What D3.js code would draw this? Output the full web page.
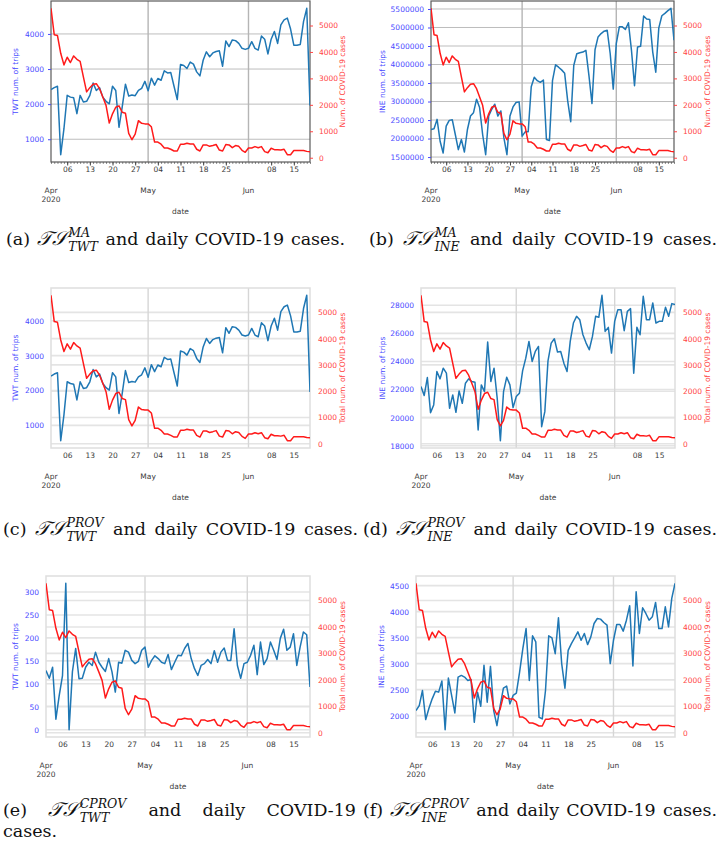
<!DOCTYPE html>
<html><head><meta charset="utf-8">
<script src="https://cdn.jsdelivr.net/npm/d3@7"></script>
<style>
body{margin:0;background:#fff}
svg{display:block}
.tk text{font-family:"DejaVu Sans",sans-serif;font-size:7.5px}
.cap{font-family:"DejaVu Serif",serif;fill:#111}
</style>
</head><body>
<svg id="fig" width="720" height="843"></svg>
<script>
// ---------------- data ----------------
const startDate = "2020-04-01";
const endDate = "2020-06-20";
const covidCases = [5650,4650,4620,3950,3510,3800,3600,3850,3720,3640,
  3060,2490,2650,2780,2800,2610,2300,1980,1310,1660,
  1910,1960,1720,1680,920,680,890,1400,1300,1280,
  1280,1170,590,590,510,370,370,320,255,255,
  510,510,550,520,520,320,255,485,485,430,
  460,500,290,255,500,485,380,460,430,280,
  205,370,370,420,380,420,230,190,360,305,
  305,290,320,115,115,270,270,270,270,240,
  230];
const twtMA = [2414,2471,2509,560,1300,2250,2200,2180,1730,2250,
  2060,2080,2250,2600,2390,2470,2200,2080,2010,2510,
  2390,1340,1920,2570,2230,2260,2240,2390,2450,2650,
  2380,2740,2540,2730,2680,2950,2890,2900,2510,2130,
  3130,3100,3015,3200,3140,2920,2805,3250,3490,3350,
  3460,3500,3520,3080,3800,3640,3830,3810,3730,3590,
  3560,3590,3780,3590,3540,3940,3850,3430,3850,4070,
  3730,4260,4400,4450,4140,3680,3680,3700,4350,4730,
  1960];
const ineMA = [2245000,2264000,2518000,1927000,1609000,2336000,2491000,2509000,2109000,1700000,
  1973000,1636000,2245000,2609000,2700000,3064000,2836000,2109000,1564000,2609000,
  2791000,2927000,2609000,2745000,2018000,1564000,2609000,2855000,2973000,2991000,
  2064000,2182000,2182000,3400000,3655000,3564000,3518000,3582000,1973000,1945000,
  3564000,3991000,3927000,3855000,3764000,3018000,2455000,3973000,4291000,4318000,
  4336000,4382000,3700000,2945000,4400000,4745000,4836000,4900000,4927000,4291000,
  3336000,4564000,5018000,5018000,4945000,5127000,4382000,3427000,4473000,4491000,
  5309000,5227000,5218000,4336000,3791000,4991000,5318000,5382000,5455000,5518000,
  4655000];
const twtProv = [2414,2471,2509,560,1300,2250,2200,2180,1730,2250,
  2060,2080,2250,2600,2390,2470,2200,2080,2010,2510,
  2390,1340,1920,2570,2230,2260,2240,2390,2450,2650,
  2380,2740,2540,2730,2680,2950,2890,2900,2510,2130,
  3130,3100,3015,3200,3140,2920,2805,3250,3490,3350,
  3460,3500,3520,3080,3800,3640,3830,3810,3730,3590,
  3560,3590,3780,3590,3540,3940,3850,3430,3850,4070,
  3730,4260,4400,4450,4140,3680,3680,3700,4350,4730,
  1960];
const ineProv = [22214,21571,22857,20357,20905,23286,22762,23524,23167,20667,
  21619,20381,21905,21024,22452,22762,22571,22524,19119,22333,
  21857,25381,22571,23524,21381,18357,21857,22881,22333,20714,
  21500,21738,23333,24238,25429,24000,24714,25071,19357,20429,
  24048,25310,25619,24667,24714,23881,23286,25429,26738,27214,
  26976,25905,25310,24833,25786,27214,27143,28714,26143,26429,
  24595,26857,27690,27690,26190,27571,27762,23167,26429,25905,
  28643,26976,26976,28167,26738,26857,26857,27857,27214,28119,
  28048];
const twtCProv = [129,112,136,23,74,118,319,0,126,177,
  111,112,136,147,140,169,147,136,127,155,
  126,82,147,145,173,169,151,144,149,173,
  180,136,151,161,155,147,144,164,131,147,
  162,161,177,188,155,133,118,140,144,153,
  144,172,147,169,178,151,151,220,140,112,
  144,147,162,184,120,191,142,155,191,173,
  153,199,219,173,180,209,140,180,213,207,
  93];
const ineCProv = [2097,2193,2483,1923,2142,2322,2470,2451,2664,1729,
  2722,2387,2052,2741,2773,2741,2677,2696,1871,2451,
  2180,2967,2258,2947,2097,1807,2193,2528,2567,2225,
  2387,2432,2838,3289,3675,2677,3534,3418,1968,1936,
  2483,3534,3495,3192,3881,3000,2528,3256,3385,3495,
  3611,3450,3579,3366,3514,3772,3868,3856,3791,3740,
  3000,3450,3753,3753,3624,3836,4113,2954,4384,3579,
  4075,3965,3836,3900,4178,3675,3675,4094,3707,4255,
  4545];
const weekTicks = ["2020-04-06","2020-04-13","2020-04-20","2020-04-27","2020-05-04","2020-05-11","2020-05-18","2020-05-25","2020-06-08","2020-06-15"];
const monthTicks = ["2020-04-01","2020-05-01","2020-06-01"];
const monthLabels = [["Apr","2020"],["May"],["Jun"]];
const rightTicks = [0,1000,2000,3000,4000,5000];
const leftTicksA = [1000,2000,3000,4000];
const leftTicksB = [1500000,2000000,2500000,3000000,3500000,4000000,4500000,5000000,5500000];
const leftTicksC = [1000,2000,3000,4000];
const leftTicksD = [18000,20000,22000,24000,26000,28000];
const leftTicksE = [0,50,100,150,200,250,300];
const leftTicksF = [2000,2500,3000,3500,4000,4500];

// ---------------- drawing ----------------
const parse = d3.utcParse("%Y-%m-%d");
const days = d3.utcDay.range(parse(startDate), d3.utcDay.offset(parse(endDate),1));
const svg = d3.select("#fig");
const BLUE_TXT = "#4a4aff", RED_TXT = "#ff4444", LINE_BLUE = "#1f77b4", LINE_RED = "#ff1a1a";

const panels = [
  {series:twtMA, lt:leftTicksA, ll:"TWT num. of trips", rl:"Num. of COVID-19 cases", dark:true,
   L:51, R:310, T:1, B:162, lx:15, rx:342},
  {series:ineMA, lt:leftTicksB, ll:"INE num. of trips", rl:"Num. of COVID-19 cases", dark:true,
   L:431, R:674, T:1, B:162, lx:382, rx:707},
  {series:twtProv, lt:leftTicksC, ll:"TWT num. of trips", rl:"Total num. of COVID-19 cases", dark:false,
   L:51, R:310, T:288, B:448, lx:15, rx:342},
  {series:ineProv, lt:leftTicksD, ll:"INE num. of trips", rl:"Total num. of COVID-19 cases", dark:false,
   L:421, R:675, T:288, B:448, lx:382, rx:707},
  {series:twtCProv, lt:leftTicksE, ll:"TWT num. of trips", rl:"Total num. of COVID-19 cases", dark:false,
   L:46, R:310, T:576, B:737, lx:15, rx:342},
  {series:ineCProv, lt:leftTicksF, ll:"INE num. of trips", rl:"Total num. of COVID-19 cases", dark:false,
   L:416, R:675, T:576, B:737, lx:381, rx:707}
];

function padded(arr){
  const [a,b] = d3.extent(arr); const m = (b-a)*0.05; return [a-m, b+m];
}

panels.forEach((p,i)=>{
  const g = svg.append("g");
  const x = d3.scaleUtc().domain([days[0], days[days.length-1]]).range([p.L,p.R]);
  const yL = d3.scaleLinear().domain(padded(p.series)).range([p.B,p.T]);
  const yR = d3.scaleLinear().domain(padded(covidCases)).range([p.B,p.T]);
  const gridCol = p.dark ? "#bdbdbd" : "#e4e4e4";
  const gridW = p.dark ? 1 : 1.6;
  const gl = g.append("g");
  gl.selectAll("line.hl").data(p.lt).join("line")
    .attr("x1",p.L).attr("x2",p.R).attr("y1",d=>yL(d)).attr("y2",d=>yL(d))
    .attr("stroke",gridCol).attr("stroke-width",gridW);
  if(!p.dark){
    gl.selectAll("line.hr").data(rightTicks).join("line")
      .attr("x1",p.L).attr("x2",p.R).attr("y1",d=>yR(d)).attr("y2",d=>yR(d))
      .attr("stroke",gridCol).attr("stroke-width",gridW);
  }
  gl.selectAll("line.v").data(monthTicks.slice(1)).join("line")
    .attr("x1",d=>x(parse(d))).attr("x2",d=>x(parse(d))).attr("y1",p.T).attr("y2",p.B)
    .attr("stroke",p.dark?"#b5b5b5":"#d6d6d6").attr("stroke-width",1.4);
  g.append("rect").attr("x",p.L).attr("y",p.T).attr("width",p.R-p.L).attr("height",p.B-p.T)
    .attr("fill","none").attr("stroke",p.dark?"#5a5a5a":"#dedede").attr("stroke-width",p.dark?1.2:1.5);
  const cid = "clip"+i;
  svg.append("clipPath").attr("id",cid).append("rect")
    .attr("x",p.L).attr("y",p.T-1).attr("width",p.R-p.L).attr("height",p.B-p.T+2);
  const lines = g.append("g").attr("clip-path",`url(#${cid})`);
  lines.append("path").datum(p.series)
    .attr("d", d3.line().x((d,j)=>x(days[j])).y(d=>yL(d)))
    .attr("fill","none").attr("stroke",LINE_BLUE).attr("stroke-width",1.5).attr("stroke-linejoin","round");
  lines.append("path").datum(covidCases)
    .attr("d", d3.line().x((d,j)=>x(days[j])).y(d=>yR(d)))
    .attr("fill","none").attr("stroke",LINE_RED).attr("stroke-width",1.5).attr("stroke-linejoin","round");
  const la = g.append("g").attr("class","tk").attr("transform",`translate(${p.L},0)`)
    .call(d3.axisLeft(yL).tickValues(p.lt).tickFormat(d3.format("d")).tickSize(p.dark?3:0).tickPadding(p.dark?4:7));
  la.select(".domain").remove();
  la.selectAll("line").attr("stroke",BLUE_TXT);
  la.selectAll("text").attr("fill",BLUE_TXT);
  const ra = g.append("g").attr("class","tk").attr("transform",`translate(${p.R},0)`)
    .call(d3.axisRight(yR).tickValues(rightTicks).tickFormat(d3.format("d")).tickSize(p.dark?3:0).tickPadding(p.dark?6:8));
  ra.select(".domain").remove();
  ra.selectAll("line").attr("stroke",RED_TXT);
  ra.selectAll("text").attr("fill",RED_TXT);
  if(p.dark){
    const mi = g.append("g").attr("transform",`translate(0,${p.B})`)
      .call(d3.axisBottom(x).tickValues(days).tickFormat("").tickSize(2));
    mi.select(".domain").remove();
    mi.selectAll("line").attr("stroke","#444").attr("stroke-width",0.6);
  }
  const wa = g.append("g").attr("class","tk").attr("transform",`translate(0,${p.B})`)
    .call(d3.axisBottom(x).tickValues(weekTicks.map(parse)).tickFormat(d3.utcFormat("%d"))
      .tickSize(p.dark?3.5:0).tickPadding(p.dark?1.5:4.5));
  wa.select(".domain").remove();
  wa.selectAll("line").attr("stroke","#444");
  wa.selectAll("text").attr("fill","#3a3a3a");
  const ma = g.append("g").attr("class","tk");
  monthTicks.forEach((m,k)=>{
    const t = ma.append("text").attr("x",x(parse(m))).attr("y",p.B+31)
      .attr("text-anchor","middle").attr("fill","#3a3a3a");
    monthLabels[k].forEach((s,q)=>{
      t.append("tspan").attr("x",x(parse(m))).attr("dy",q?9:0).text(s);
    });
  });
  ma.append("text").attr("x",(p.L+p.R)/2).attr("y",p.B+52).attr("text-anchor","middle")
    .attr("fill","#3a3a3a").text("date");
  const at = g.append("g").attr("class","tk");
  at.append("text").attr("transform",`translate(${p.lx},${(p.T+p.B)/2}) rotate(-90)`)
    .attr("text-anchor","middle").attr("dy","0.35em").attr("fill",BLUE_TXT).text(p.ll);
  at.append("text").attr("transform",`translate(${p.rx},${(p.T+p.B)/2}) rotate(-90)`)
    .attr("text-anchor","middle").attr("dy","0.35em").attr("fill",RED_TXT).text(p.rl);
});

// ---------------- captions ----------------
function caption(x0, y, label, sup, sub, words, width){
  const g = svg.append("g").attr("class","cap");
  const fs = 17.5, small = 12.5;
  const items = [];
  const t1 = g.append("text").attr("y",y).attr("font-size",fs).text(label);
  items.push({el:t1, w:t1.node().getComputedTextLength()});
  const ts = g.append("text").attr("y",y).attr("font-size",19.5).attr("font-style","italic").text("𝒯𝒮");
  const sp = g.append("text").attr("y",y-8.5).attr("font-size",small).attr("font-style","italic").text(sup);
  const sb = g.append("text").attr("y",y+6).attr("font-size",small).attr("font-style","italic").text(sub);
  items.push({el:ts, w:ts.node().getComputedTextLength()+1.5, sub:[sp,sb],
    ws:Math.max(sp.node().getComputedTextLength(), sb.node().getComputedTextLength())+1});
  words.forEach(w=>{
    const t = g.append("text").attr("y",y).attr("font-size",fs).text(w);
    items.push({el:t, w:t.node().getComputedTextLength()});
  });
  let natural = 0;
  items.forEach(it=>{ natural += it.w + (it.ws||0); });
  const gap = Math.max(4, (width - natural)/(items.length-1));
  let x = x0;
  items.forEach(it=>{
    it.el.attr("x",x);
    x += it.w;
    if(it.sub){ it.sub.forEach(s=>s.attr("x",x)); x += it.ws; }
    x += gap;
  });
}
caption(6, 245, "(a)", "MA", "TWT", ["and","daily","COVID-19","cases."], 339);
caption(369, 245, "(b)", "MA", "INE", ["and","daily","COVID-19","cases."], 348);
caption(3, 535, "(c)", "PROV", "TWT", ["and","daily","COVID-19","cases."], 355);
caption(363, 535, "(d)", "PROV", "INE", ["and","daily","COVID-19","cases."], 354);
caption(3, 816, "(e)", "CPROV", "TWT", ["and","daily","COVID-19"], 353);
caption(363, 816, "(f)", "CPROV", "INE", ["and","daily","COVID-19","cases."], 354);
svg.append("text").attr("class","cap").attr("x",3).attr("y",837).attr("font-size",17.5).text("cases.");
</script>
</body></html>
